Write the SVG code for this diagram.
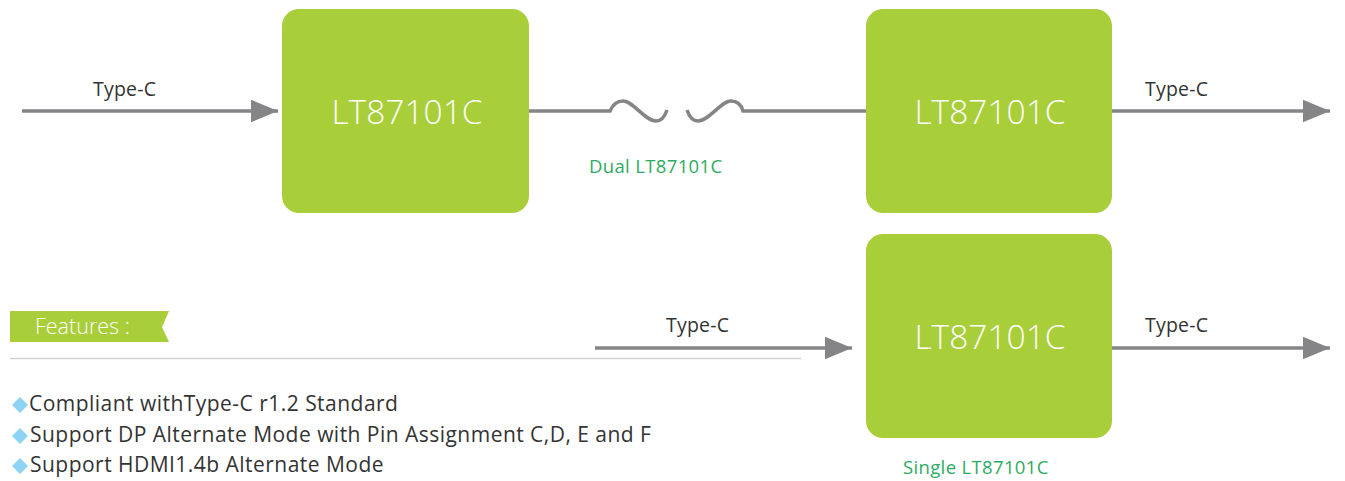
<svg xmlns="http://www.w3.org/2000/svg" width="1345" height="481" viewBox="0 0 1345 481">
<style>
.box{fill:#a8ce3a}
.boxlbl{font-family:"Open Sans","Noto Sans",sans-serif;font-weight:300;font-size:33.5px;fill:#ffffff;text-anchor:middle}
.lbl{font-family:"Open Sans","Noto Sans",sans-serif;font-size:19.5px;fill:#333333;letter-spacing:0.2px}
.cap{font-family:"Open Sans","Noto Sans",sans-serif;font-size:18.5px;fill:#2dab63;letter-spacing:0.35px}
.feat{font-family:"Open Sans","Noto Sans",sans-serif;font-size:21px;fill:#333333;letter-spacing:0.47px}
.conn{stroke:#858587;stroke-width:3.5;fill:none}
.bullet{fill:#8dd3f3}
</style>
<defs>
<marker id="ah" markerWidth="7.8" markerHeight="6.5" refX="7.8" refY="3.25" orient="auto" markerUnits="strokeWidth">
<path d="M0,0 L7.8,3.25 L0,6.5 z" fill="#858587"/>
</marker>
</defs>
<g id="connectors">
<line class="conn" x1="22" y1="111" x2="278" y2="111" marker-end="url(#ah)"/>
<path class="conn" d="M529,111 H610 C613,104 617,101 623,101 C633,101 645,121 656,121 C662,121 665,116 667,110"/>
<path class="conn" d="M687,110 C689,116 692,121 698,121 C709,121 721,101 731,101 C737,101 741,104 743,111 H866"/>
<line class="conn" x1="1112" y1="111" x2="1330" y2="111" marker-end="url(#ah)"/>
<line class="conn" x1="595" y1="348" x2="852" y2="348" marker-end="url(#ah)"/>
<line class="conn" x1="1112" y1="348" x2="1330" y2="348" marker-end="url(#ah)"/>
<text class="lbl" x="93" y="96">Type-C</text>
<text class="lbl" x="1145" y="96">Type-C</text>
<text class="lbl" x="666" y="332">Type-C</text>
<text class="lbl" x="1145" y="332">Type-C</text>
<text class="cap" x="589" y="173">Dual LT87101C</text>
</g>
<g id="node1">
<rect class="box" x="282" y="9" width="247" height="204" rx="17"/>
<text class="boxlbl" x="407" y="124">LT87101C</text>
</g>
<g id="node2">
<rect class="box" x="866" y="9" width="246" height="204" rx="17"/>
<text class="boxlbl" x="990" y="124">LT87101C</text>
</g>
<g id="node3">
<rect class="box" x="866" y="234" width="246" height="204" rx="17"/>
<text class="boxlbl" x="990" y="349">LT87101C</text>
<text class="cap" x="903" y="474">Single LT87101C</text>
</g>
<g id="features">
<path d="M10,311 H169 L162,327 L169,342 H10 z" fill="#a8ce3a"/>
<text x="35" y="334" font-family="'Open Sans','Noto Sans',sans-serif" font-weight="300" font-size="21.5" fill="#ffffff">Features :</text>
<line x1="10" y1="358.5" x2="801" y2="358.5" stroke="#d0d0d0" stroke-width="1.5"/>
<path class="bullet" d="M12,405 L20,397 L28,405 L20,413 z"/>
<text class="feat" x="29" y="411">Compliant withType-C r1.2 Standard</text>
<path class="bullet" d="M12,436 L20,428 L28,436 L20,444 z"/>
<text class="feat" x="30" y="442">Support DP Alternate Mode with Pin Assignment C,D, E and F</text>
<path class="bullet" d="M12,466 L20,458 L28,466 L20,474 z"/>
<text class="feat" x="30" y="472">Support HDMI1.4b Alternate Mode</text>
</g>
</svg>
